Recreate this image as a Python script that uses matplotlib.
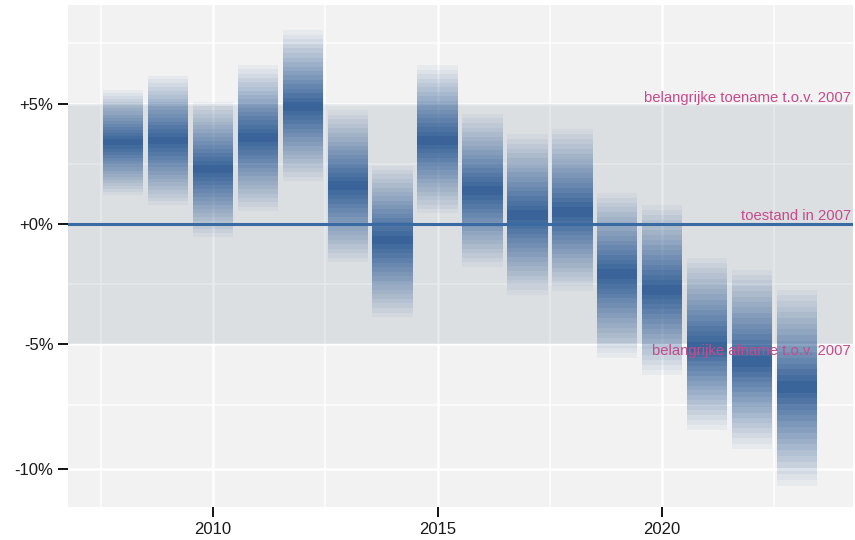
import numpy as np
import matplotlib.pyplot as plt
from matplotlib.patches import Rectangle

# index per jaar t.o.v. 2007 (%): midden en uiterste grenzen van de onzekerheid
jaren = [2008, 2009, 2010, 2011, 2012, 2013, 2014, 2015,
         2016, 2017, 2018, 2019, 2020, 2021, 2022, 2023]
midden = [3.42, 3.5, 2.33, 3.63, 4.9, 1.6, -0.67, 3.5,
          1.4, 0.38, 0.5, -2.1, -2.75, -5.13, -5.74, -6.76]
onder = [1.2, 0.79, -0.54, 0.54, 1.8, -1.6, -3.9, 0.46,
         -1.8, -2.96, -2.8, -5.58, -6.27, -8.48, -9.23, -10.66]
boven = [5.6, 6.17, 5.1, 6.6, 8.0, 4.75, 2.45, 6.6,
         4.6, 3.75, 3.96, 1.3, 0.8, -1.42, -1.92, -2.75]

grens = 5.0
y_ticks = [-10, -5, 0, 5]
y_labels = ["-10%", "-5%", "+0%", "+5%"]
y_minor = [-7.5, -2.5, 2.5, 7.5]
x_ticks = [2010, 2015, 2020]
x_minor = [2007.5, 2012.5, 2017.5, 2022.5]

plt.rcParams['font.family'] = ['Liberation Sans', 'DejaVu Sans']

# y-as iets uitgerekt naar de uiteinden toe
S = 24.4
def fwd(v):
    return np.sinh(np.asarray(v) / S)
def inv(u):
    return S * np.arcsinh(np.asarray(u))

fig = plt.figure(figsize=(8.55, 5.4), dpi=100)
ax = fig.add_axes([68/855, 1 - 507/540, (853 - 68)/855, (507 - 5)/540])
ax.set_facecolor('#f2f2f2')
ax.set_yscale('function', functions=(fwd, inv))
ax.set_xlim(2006.77, 2024.25)
ax.set_ylim(-11.47, 9.0)

# rasterlijnen
for x in x_minor:
    ax.axvline(x, color='white', lw=1.1, zorder=0.5)
for x in x_ticks:
    ax.axvline(x, color='white', lw=1.8, zorder=0.5)
for y in y_minor:
    ax.axhline(y, color='white', lw=1.1, zorder=0.5)
for y in y_ticks:
    ax.axhline(y, color='white', lw=1.8, zorder=0.5)

# grijze band: geen belangrijke verandering
ax.axhspan(-grens, grens, color='#203e5c', alpha=0.1, lw=0, zorder=1)

# waaier per jaar: stroken van buiten naar binnen steeds donkerder
n = 17
breedte = 0.9
kleur = '#2c5a94'
fracs = np.linspace(1, 0, n + 1)
alphas = np.linspace(0.05, 0.93, n)
for j, m, lo, hi in zip(jaren, midden, onder, boven):
    for k in range(n):
        f0, f1 = fracs[k], fracs[k + 1]
        # boven het midden
        ax.add_patch(Rectangle((j - breedte/2, m + (hi - m)*f1), breedte,
                               (hi - m)*(f0 - f1), facecolor=kleur,
                               alpha=alphas[k], lw=0, zorder=2))
        # onder het midden
        ax.add_patch(Rectangle((j - breedte/2, m - (m - lo)*f0), breedte,
                               (m - lo)*(f0 - f1), facecolor=kleur,
                               alpha=alphas[k], lw=0, zorder=2))

ax.axhline(0, color='#3a6aa2', lw=2.2, zorder=3)

roze = '#c94a8b'
xr = 2024.2
ax.text(xr, grens + 0.1, "belangrijke toename t.o.v. 2007", color=roze,
        ha='right', va='baseline', fontsize=10.7, zorder=4)
ax.text(xr, 0.17, "toestand in 2007", color=roze,
        ha='right', va='baseline', fontsize=10.7, zorder=4)
ax.text(xr, -grens - 0.03, "belangrijke afname t.o.v. 2007", color=roze,
        ha='right', va='top', fontsize=10.7, zorder=4)

ax.set_xticks(x_ticks)
ax.set_xticklabels([str(x) for x in x_ticks])
ax.set_yticks(y_ticks)
ax.set_yticklabels(y_labels)
ax.minorticks_off()
ax.tick_params(axis='both', length=7.5, width=1.3, color='black',
               labelsize=12, labelcolor='#1a1a1a', pad=3)
for s in ax.spines.values():
    s.set_visible(False)

fig.savefig('out.png', dpi=100)
